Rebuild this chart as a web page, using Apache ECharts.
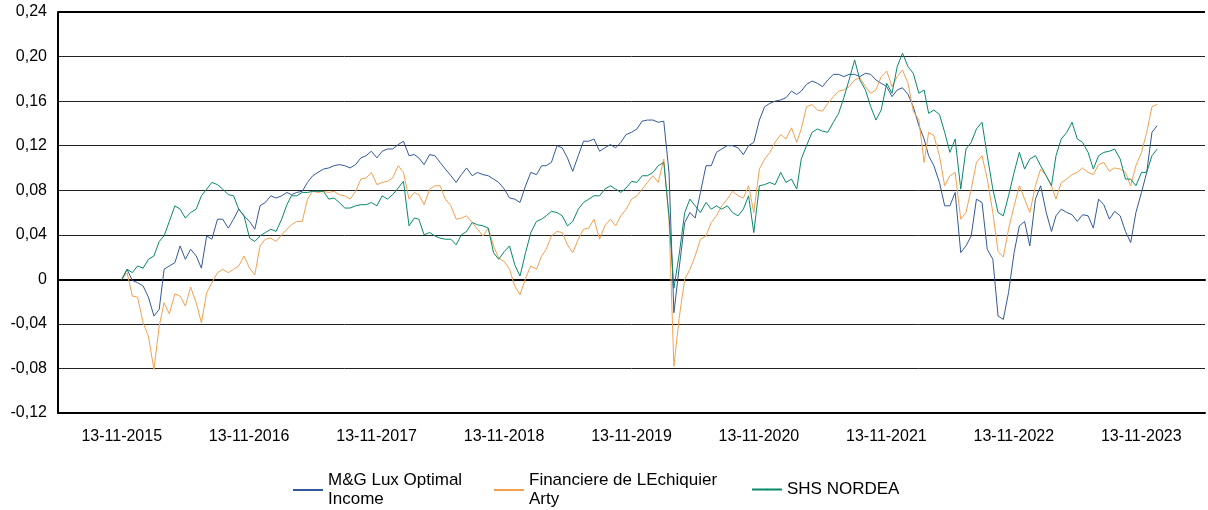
<!DOCTYPE html>
<html>
<head>
<meta charset="utf-8">
<title>Funds</title>
<script src="https://cdn.jsdelivr.net/npm/echarts@6/dist/echarts.min.js"></script>
<style>
  html, body { margin: 0; padding: 0; background: #fff; }
  #chart { width: 1208px; height: 510px; }
</style>
</head>
<body>
<div id="chart"></div>
<script>
/* global echarts */

// x axis labels (one per year)
const tickLabels = ['13-11-2015', '13-11-2016', '13-11-2017', '13-11-2018', '13-11-2019',
    '13-11-2020', '13-11-2021', '13-11-2022', '13-11-2023'];

const seriesNames = ['M&G Lux Optimal Income', 'Financiere de LEchiquier Arty', 'SHS NORDEA'];
const legendLabels = ['M&G Lux Optimal\nIncome', 'Financiere de LEchiquier\nArty', 'SHS NORDEA'];

// values read every half month (13th and 28th) starting 13-11-2015
const mgLux = [
    0, 0.009, -0.001, -0.003, -0.006, -0.016, -0.033, -0.027, 0.009, 0.012,
    0.015, 0.030, 0.018, 0.027, 0.021, 0.010, 0.039, 0.036, 0.054, 0.054,
    0.046, 0.054, 0.063, 0.057, 0.052, 0.045, 0.066, 0.069, 0.075, 0.073,
    0.075, 0.078, 0.076, 0.078, 0.079, 0.087, 0.093, 0.096, 0.099, 0.100,
    0.102, 0.103, 0.102, 0.100, 0.103, 0.109, 0.111, 0.115, 0.109, 0.115,
    0.117, 0.117, 0.121, 0.124, 0.111, 0.112, 0.109, 0.103, 0.112, 0.111,
    0.105, 0.099, 0.093, 0.087, 0.094, 0.100, 0.093, 0.096, 0.094, 0.093,
    0.090, 0.087, 0.081, 0.073, 0.072, 0.069, 0.084, 0.096, 0.094, 0.102,
    0.102, 0.105, 0.120, 0.118, 0.109, 0.097, 0.111, 0.124, 0.124, 0.126,
    0.115, 0.118, 0.121, 0.118, 0.123, 0.130, 0.132, 0.135, 0.142, 0.143,
    0.143, 0.141, 0.142, 0.096, -0.030, 0.010, 0.051, 0.060, 0.055, 0.078,
    0.102, 0.102, 0.114, 0.117, 0.120, 0.120, 0.118, 0.112, 0.120, 0.123,
    0.143, 0.155, 0.158, 0.160, 0.161, 0.163, 0.169, 0.166, 0.169, 0.175,
    0.178, 0.176, 0.173, 0.179, 0.184, 0.184, 0.182, 0.184, 0.184, 0.182,
    0.185, 0.184, 0.179, 0.176, 0.173, 0.164, 0.170, 0.172, 0.166, 0.155,
    0.138, 0.126, 0.111, 0.102, 0.087, 0.066, 0.066, 0.078, 0.024, 0.030,
    0.039, 0.072, 0.069, 0.027, 0.018, -0.033, -0.036, -0.012, 0.024, 0.048,
    0.052, 0.030, 0.072, 0.084, 0.060, 0.043, 0.057, 0.063, 0.060, 0.058,
    0.052, 0.058, 0.057, 0.046, 0.072, 0.067, 0.054, 0.061, 0.057, 0.043,
    0.033, 0.060, 0.078, 0.096, 0.132, 0.138
];

const lechiquier = [
    0, 0.006, -0.015, -0.016, -0.039, -0.051, -0.081, -0.042, -0.021, -0.031,
    -0.013, -0.015, -0.024, -0.007, -0.021, -0.039, -0.012, -0.003, 0.006, 0.009,
    0.006, 0.009, 0.012, 0.021, 0.010, 0.004, 0.030, 0.036, 0.037, 0.034,
    0.040, 0.045, 0.049, 0.052, 0.052, 0.072, 0.079, 0.078, 0.079, 0.078,
    0.079, 0.076, 0.075, 0.072, 0.079, 0.090, 0.091, 0.096, 0.085, 0.087,
    0.088, 0.091, 0.102, 0.096, 0.072, 0.078, 0.076, 0.067, 0.081, 0.084,
    0.084, 0.072, 0.066, 0.054, 0.055, 0.057, 0.051, 0.045, 0.039, 0.046,
    0.030, 0.019, 0.016, 0.009, -0.006, -0.014, 0.001, 0.012, 0.009, 0.021,
    0.027, 0.039, 0.043, 0.042, 0.031, 0.024, 0.036, 0.045, 0.046, 0.054,
    0.036, 0.048, 0.054, 0.048, 0.057, 0.063, 0.072, 0.075, 0.081, 0.087,
    0.093, 0.087, 0.108, 0.054, -0.078, -0.035, 0.000, 0.009, 0.021, 0.036,
    0.039, 0.051, 0.057, 0.066, 0.072, 0.079, 0.075, 0.073, 0.084, 0.060,
    0.099, 0.108, 0.114, 0.123, 0.130, 0.126, 0.136, 0.123, 0.135, 0.155,
    0.157, 0.152, 0.151, 0.158, 0.164, 0.169, 0.170, 0.173, 0.179, 0.181,
    0.173, 0.167, 0.170, 0.182, 0.187, 0.173, 0.182, 0.188, 0.176, 0.151,
    0.143, 0.105, 0.132, 0.129, 0.111, 0.084, 0.093, 0.096, 0.054, 0.060,
    0.081, 0.105, 0.111, 0.090, 0.060, 0.025, 0.020, 0.045, 0.066, 0.084,
    0.072, 0.060, 0.084, 0.099, 0.093, 0.084, 0.072, 0.087, 0.090, 0.094,
    0.096, 0.100, 0.096, 0.094, 0.103, 0.105, 0.097, 0.100, 0.099, 0.096,
    0.084, 0.102, 0.114, 0.132, 0.155, 0.157
];

const shsNordea = [
    0, 0.009, 0.006, 0.012, 0.010, 0.018, 0.021, 0.034, 0.039, 0.052,
    0.066, 0.063, 0.055, 0.060, 0.063, 0.075, 0.081, 0.087, 0.085, 0.081,
    0.076, 0.075, 0.063, 0.057, 0.037, 0.034, 0.039, 0.042, 0.045, 0.043,
    0.054, 0.067, 0.075, 0.075, 0.078, 0.078, 0.079, 0.079, 0.079, 0.072,
    0.073, 0.069, 0.064, 0.064, 0.066, 0.067, 0.067, 0.069, 0.066, 0.075,
    0.072, 0.076, 0.082, 0.088, 0.048, 0.055, 0.054, 0.040, 0.042, 0.039,
    0.037, 0.036, 0.036, 0.031, 0.040, 0.043, 0.051, 0.049, 0.048, 0.046,
    0.024, 0.018, 0.025, 0.030, 0.013, 0.003, 0.024, 0.042, 0.052, 0.054,
    0.057, 0.061, 0.060, 0.057, 0.048, 0.052, 0.063, 0.069, 0.072, 0.075,
    0.075, 0.081, 0.084, 0.081, 0.078, 0.082, 0.088, 0.087, 0.093, 0.093,
    0.096, 0.102, 0.105, 0.057, -0.008, 0.022, 0.060, 0.072, 0.066, 0.060,
    0.069, 0.063, 0.066, 0.063, 0.066, 0.060, 0.057, 0.063, 0.075, 0.042,
    0.084, 0.085, 0.087, 0.085, 0.096, 0.087, 0.090, 0.081, 0.108, 0.120,
    0.132, 0.135, 0.133, 0.132, 0.141, 0.149, 0.163, 0.179, 0.197, 0.179,
    0.170, 0.155, 0.143, 0.152, 0.176, 0.167, 0.191, 0.203, 0.191, 0.185,
    0.167, 0.170, 0.149, 0.152, 0.148, 0.132, 0.114, 0.126, 0.081, 0.117,
    0.123, 0.135, 0.141, 0.111, 0.081, 0.060, 0.057, 0.075, 0.096, 0.114,
    0.099, 0.108, 0.111, 0.102, 0.093, 0.084, 0.111, 0.126, 0.132, 0.141,
    0.126, 0.123, 0.114, 0.099, 0.111, 0.114, 0.115, 0.117, 0.108, 0.090,
    0.090, 0.084, 0.096, 0.096, 0.111, 0.117
];

const colors = ['#34599A', '#F3A150', '#08896A'];

// sampling dates: 13th and 28th of each month
const sampleDates = [];
for (let i = 0; i < mgLux.length; i++) {
    const m = 10 + Math.floor(i / 2);
    const y = 2015 + Math.floor(m / 12);
    const mm = String((m % 12) + 1).padStart(2, '0');
    sampleDates.push(y + '-' + mm + '-' + (i % 2 === 0 ? '13' : '28'));
}

const pairs = vals => vals.map((v, i) => [sampleDates[i], v]);

const font = 'Liberation Sans, Arial, sans-serif';

const fmtY = v => {
    if (Math.abs(v) < 1e-9) return '0';
    return v.toFixed(2).replace('.', ',');
};

const makeSeries = (idx, vals) => ({
    name: seriesNames[idx],
    type: 'line',
    xAxisIndex: 0,
    data: pairs(vals),
    symbol: 'none',
    lineStyle: { color: colors[idx], width: 1 },
    itemStyle: { color: colors[idx] },
    emphasis: { disabled: true },
    z: 3 + idx
});

const legendBase = {
    orient: 'horizontal',
    padding: 0,
    itemWidth: 30,
    itemHeight: 2,
    itemGap: 10,
    formatter: name => legendLabels[seriesNames.indexOf(name)],
    textStyle: { fontFamily: font, fontSize: 17, color: '#000', lineHeight: 19 }
};

const option = {
    animation: false,
    backgroundColor: '#fff',
    grid: { left: 58, right: 3, top: 12, bottom: 97, containLabel: false },
    legend: [
        Object.assign({}, legendBase, { data: [seriesNames[0]], left: 292, top: 471 }),
        Object.assign({}, legendBase, { data: [seriesNames[1]], left: 493, top: 471 }),
        Object.assign({}, legendBase, { data: [seriesNames[2]], left: 751, top: 480 })
    ],
    xAxis: [
        {
            // time scale for the lines, drawn as the zero line
            type: 'time',
            min: '2015-05-14',
            max: '2024-05-13',
            axisLine: { show: true, onZero: true, lineStyle: { color: '#000', width: 2 } },
            axisTick: { show: false },
            axisLabel: { show: false },
            splitLine: { show: false }
        },
        {
            type: 'category',
            position: 'bottom',
            data: tickLabels,
            boundaryGap: true,
            axisLine: { show: true, onZero: false, lineStyle: { color: '#000', width: 2 } },
            axisTick: { show: false },
            axisLabel: { interval: 0, margin: 16, fontFamily: font, fontSize: 16, color: '#000' },
            splitLine: { show: false }
        }
    ],
    yAxis: {
        type: 'value',
        min: -0.12,
        max: 0.24,
        interval: 0.04,
        axisLine: { show: true, onZero: false, lineStyle: { color: '#000', width: 2 } },
        axisTick: { show: false },
        axisLabel: { formatter: fmtY, margin: 11, fontFamily: font, fontSize: 16, color: '#000' },
        splitLine: { show: true, lineStyle: { color: '#222', width: 1 } }
    },
    series: [
        Object.assign(makeSeries(0, mgLux), {
            markLine: {
                silent: true,
                symbol: 'none',
                label: { show: false },
                lineStyle: { color: '#000', width: 2, type: 'solid' },
                data: [{ yAxis: 0.24 }]
            }
        }),
        makeSeries(1, lechiquier),
        makeSeries(2, shsNordea)
    ]
};

window.addEventListener('load', () => {
    const chart = echarts.init(document.getElementById('chart'));
    chart.setOption(option);
});
</script>
</body>
</html>
